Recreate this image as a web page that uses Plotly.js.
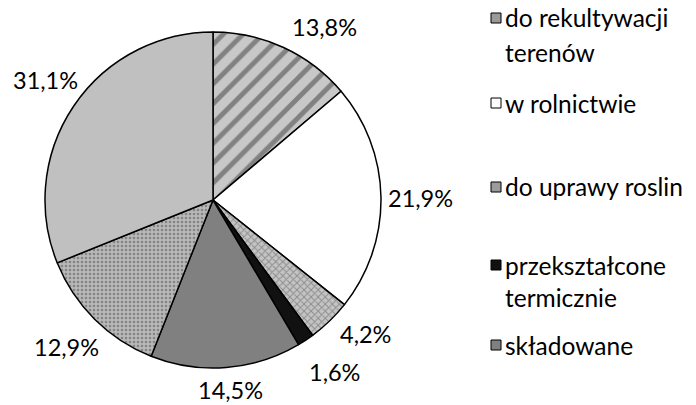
<!DOCTYPE html>
<html>
<head>
<meta charset="utf-8">
<script src="https://cdn.plot.ly/plotly-3.0.1.min.js"></script>
<style>html,body{margin:0;padding:0;background:#fff}#chart{width:696px;height:405px}</style>
</head>
<body>
<div id="chart"></div>
<script>
// Data
const labels = ["do rekultywacji terenów", "w rolnictwie", "do uprawy roslin", "przekształcone termicznie", "składowane", "inne 1", "inne 2"];
const values = [13.8, 21.9, 4.2, 1.6, 14.5, 12.9, 31.1];
const legendLines = [["do rekultywacji", "terenów"], ["w rolnictwie"], ["do uprawy roslin"], ["przekształcone", "termicznie"], ["składowane"]];

// Styles
const fillColors = ["#c8c8c8", "#ffffff", "#c4c4c4", "#111111", "#808080", "#b8b8b8", "#c0c0c0"];
const patShapes = ["/", "", "x", "", "", ".", ""];
const patFg = ["#3a3a3a", "#000", "#555555", "#000", "#000", "#505050", "#000"];
const patSize = [14, 8, 5, 8, 8, 4, 8];
const patSolid = [0.35, 0.3, 0.35, 0.3, 0.3, 0.35, 0.3];
const legendIconColors = ["#9a9a9a", "#ffffff", "#9c9c9c", "#111111", "#808080"];
// data-label centres in pixels (placement only)
const labelPos = [[324, 27], [420, 198], [365, 334], [334, 372], [230, 390], [66, 347], [45, 80]];

const W = 696, H = 405;
const cx = 213, cy = 200, R = 168;
const FONT = "Lato, 'Open Sans', sans-serif";
const FS = 23.5;

const trace = {
  type: "pie",
  labels: labels,
  values: values,
  sort: false,
  direction: "clockwise",
  rotation: 0,
  textinfo: "none",
  marker: {
    colors: fillColors,
    line: {color: "#000", width: 1.5},
    pattern: {shape: patShapes, fgcolor: patFg, bgcolor: fillColors, size: patSize, solidity: patSolid, fillmode: "overlay"}
  },
  domain: {x: [(cx - R) / W, (cx + R) / W], y: [1 - (cy + R) / H, 1 - (cy - R) / H]},
  showlegend: false,
  hoverinfo: "none"
};

const shapes = [];
const annotations = [];

// Data labels
values.forEach((v, i) => {
  annotations.push({
    xref: "paper", yref: "paper", x: labelPos[i][0] / W, y: 1 - labelPos[i][1] / H,
    xanchor: "center", yanchor: "middle", showarrow: false,
    text: v.toFixed(1).replace(".", ",") + "%",
    font: {family: FONT, size: FS, color: "#000"}
  });
});

// Custom legend (only first five entries visible)
const legendY = [[18, 52], [103], [187], [265, 297], [345]];
legendLines.forEach((lines, i) => {
  const yc = legendY[i][0];
  shapes.push({
    type: "rect", xref: "paper", yref: "paper",
    x0: 491 / W, x1: 501 / W, y0: 1 - (yc + 5) / H, y1: 1 - (yc - 5) / H,
    fillcolor: legendIconColors[i], line: {color: "#000", width: 1}
  });
  lines.forEach((t, j) => {
    annotations.push({
      xref: "paper", yref: "paper", x: 503 / W, y: 1 - legendY[i][j] / H,
      xanchor: "left", yanchor: "middle", showarrow: false, text: t,
      font: {family: FONT, size: 24.5, color: "#000"}
    });
  });
});

const layout = {
  width: W, height: H,
  margin: {l: 0, r: 0, t: 0, b: 0},
  paper_bgcolor: "#fff",
  shapes: shapes,
  annotations: annotations
};

Plotly.newPlot("chart", [trace], layout, {displayModeBar: false, staticPlot: true});
</script>
</body>
</html>
